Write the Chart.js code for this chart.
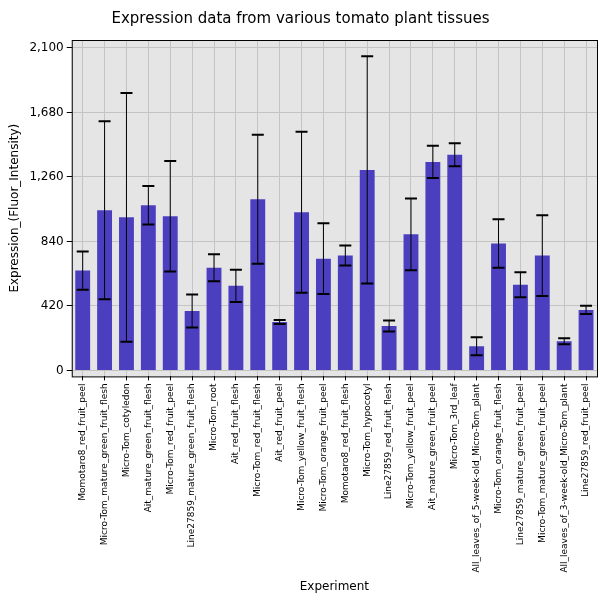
<!DOCTYPE html>
<html><head><meta charset="utf-8">
<script src="https://cdn.jsdelivr.net/npm/chart.js@4/dist/chart.umd.min.js"></script>
<style>body{margin:0;background:#fff}#w{width:600px;height:600px}</style>
</head><body><div id="w"><canvas id="c"></canvas></div>
<script>
const categories = ["Momotaro8_red_fruit_peel","Micro-Tom_mature_green_fruit_flesh","Micro-Tom_cotyledon","Ait_mature_green_fruit_flesh","Micro-Tom_red_fruit_peel","Line27859_mature_green_fruit_flesh","Micro-Tom_root","Ait_red_fruit_flesh","Micro-Tom_red_fruit_flesh","Ait_red_fruit_peel","Micro-Tom_yellow_fruit_flesh","Micro-Tom_orange_fruit_peel","Momotaro8_red_fruit_flesh","Micro-Tom_hypocotyl","Line27859_red_fruit_flesh","Micro-Tom_yellow_fruit_peel","Ait_mature_green_fruit_peel","Micro-Tom_3rd_leaf","All_leaves_of_5-week-old_Micro-Tom_plant","Micro-Tom_orange_fruit_flesh","Line27859_mature_green_fruit_peel","Micro-Tom_mature_green_fruit_peel","All_leaves_of_3-week-old_Micro-Tom_plant","Line27859_red_fruit_peel"];
const values = [650,1043,997,1076,1004,387,669,551,1115,315,1030,728,748,1306,289,886,1358,1404,157,827,558,748,190,394];
const errors = [125,580,810,125,360,108,88,105,420,13,525,230,65,740,36,233,105,75,59,158,82,263,20,27];
const yTicks = [0,420,840,1260,1680,2100];

const errorBars = {
  id: 'errorBars',
  afterDatasetsDraw(chart) {
    const ctx = chart.ctx, y = chart.scales.y;
    chart.getDatasetMeta(0).data.forEach((bar, i) => {
      const hi = y.getPixelForValue(values[i] + errors[i]);
      const lo = y.getPixelForValue(values[i] - errors[i]);
      ctx.save();
      ctx.strokeStyle = '#000'; ctx.lineWidth = 1;
      ctx.beginPath();
      ctx.moveTo(bar.x, hi); ctx.lineTo(bar.x, lo);
      ctx.stroke();
      ctx.lineWidth = 2;
      ctx.beginPath();
      ctx.moveTo(bar.x - 6, hi); ctx.lineTo(bar.x + 6, hi);
      ctx.moveTo(bar.x - 6, lo); ctx.lineTo(bar.x + 6, lo);
      ctx.stroke();
      ctx.restore();
    });
  }
};
const bg = {
  id: 'bg',
  beforeDraw(chart) {
    const a = chart.chartArea, ctx = chart.ctx;
    ctx.save(); ctx.fillStyle = '#e5e5e5';
    ctx.fillRect(a.left, a.top, a.right - a.left, a.bottom - a.top);
    ctx.restore();
  },
  afterDraw(chart) {
    const a = chart.chartArea, ctx = chart.ctx;
    ctx.save(); ctx.strokeStyle = '#000'; ctx.lineWidth = 1;
    ctx.strokeRect(a.left + 0.5, a.top + 0.5, a.right - a.left, a.bottom - a.top);
    ctx.restore();
  }
};

new Chart(document.getElementById('c'), {
  type: 'bar',
  data: { labels: categories, datasets: [{ data: values, backgroundColor: '#4b3fbf', categoryPercentage: 1, barPercentage: 0.68 }] },
  options: {
    responsive: true, maintainAspectRatio: false, animation: false,
    layout: { padding: { top: 4, right: 3, left: 4, bottom: 2 } },
    plugins: {
      legend: { display: false }, tooltip: { enabled: false },
      title: { display: true, text: 'Expression data from various tomato plant tissues', color: '#000', font: { family: 'DejaVu Sans', size: 15, weight: 'normal' }, padding: { top: 6, bottom: 12 } }
    },
    scales: {
      x: {
        grid: { color: '#c4c4c4', offset: false, tickLength: 4, tickColor: '#000' },
        border: { display: false },
        ticks: { minRotation: 90, maxRotation: 90, color: '#000', font: { family: 'DejaVu Sans', size: 9 }, autoSkip: false },
        title: { display: true, text: 'Experiment', color: '#000', font: { family: 'DejaVu Sans', size: 12 }, padding: { top: 4 } }
      },
      y: {
        min: -39, max: 2152,
        afterBuildTicks: s => { s.ticks = yTicks.map(v => ({ value: v })); },
        grid: { color: '#c4c4c4', tickLength: 5, tickColor: '#000' },
        border: { display: false },
        ticks: { color: '#000', font: { family: 'DejaVu Sans', size: 12 } },
        title: { display: true, text: 'Expression_(Fluor_Intensity)', color: '#000', font: { family: 'DejaVu Sans', size: 12 } }
      }
    }
  },
  plugins: [bg, errorBars]
});
</script></body></html>
